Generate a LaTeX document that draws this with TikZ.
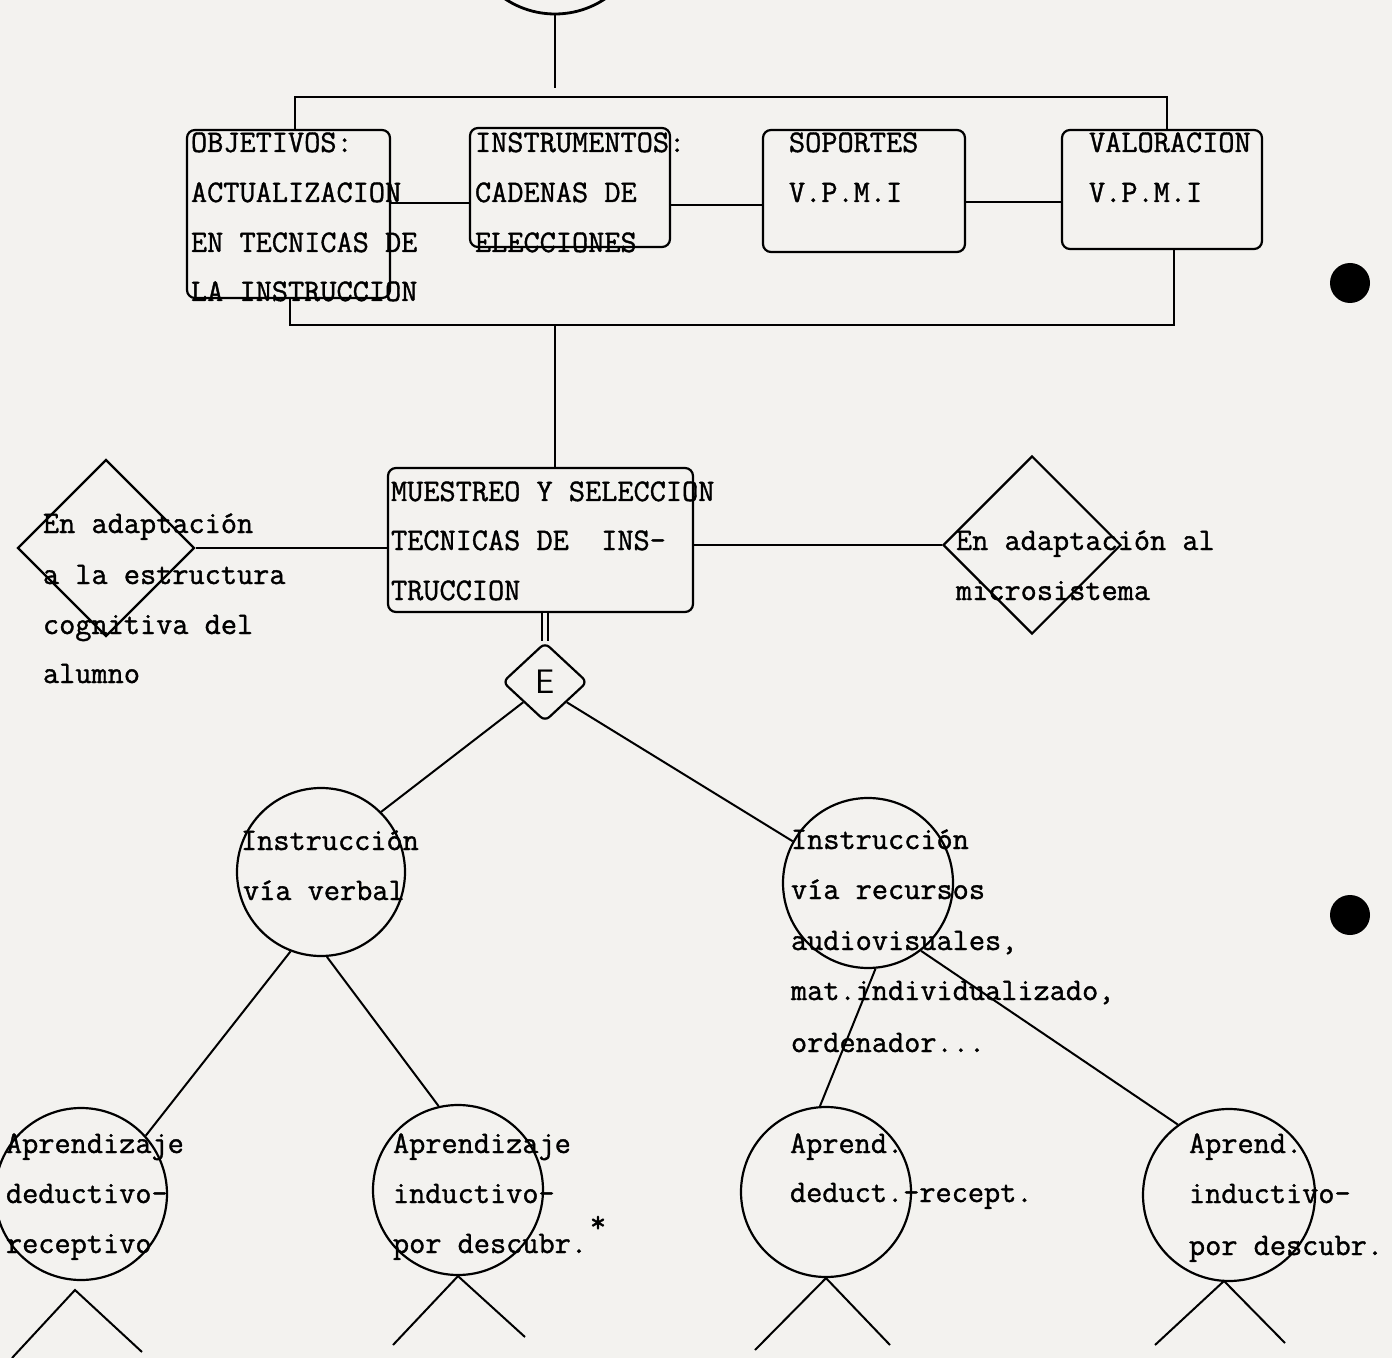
\documentclass[tikz,border=0pt]{standalone}
\usepackage{fontspec}
\usetikzlibrary{shapes.geometric,calc}
\newfontfamily\tw{Latin Modern Mono}[FakeBold=1.2]
\definecolor{paper}{RGB}{243,242,239}
\begin{document}
\begin{tikzpicture}[x=0.5pt,y=-0.5pt, line width=1pt,
  box/.style={draw, rounded corners=4pt, inner sep=0pt, line width=1.1pt},
  txt/.style={font=\tw\fontsize{15.7}{16}\selectfont, inner sep=0pt, anchor=base west},
  circ/.style={draw, circle, inner sep=0pt, line width=1.1pt},
  dia/.style={draw, diamond, inner sep=0pt, line width=1.1pt},
  blackdot/.style={circle, fill=black, inner sep=0pt, minimum size=20pt}]
\useasboundingbox (0,0) rectangle (1392,1358);
\clip (0,0) rectangle (1392,1358);
\fill[paper] (0,0) rectangle (1392,1358);

% top circle (partially visible)
\node[circ, minimum size=90pt, line width=1.4pt] (T) at (555,-76) {};
\coordinate (tb) at (555,88);
\draw (T.south) -- (tb);

% top row boxes
\node[box, minimum width=101.5pt, minimum height=84pt] (obj) at (288.5,214) {};
\node[box, minimum width=100pt, minimum height=59.5pt] (ins) at (570,187.5) {};
\node[box, minimum width=101pt, minimum height=61pt] (sop) at (864,191) {};
\node[box, minimum width=100pt, minimum height=59.5pt] (val) at (1162,189.5) {};

\node[txt] (o1) at (190,152) {OBJETIVOS:};
\node[txt] (o2) at (190,202) {ACTUALIZACION};
\node[txt] (o3) at (190,252) {EN TECNICAS DE};
\node[txt] (o4) at (190,301) {LA INSTRUCCION};
\node[txt] (i1) at (474,152) {INSTRUMENTOS:};
\node[txt] (i2) at (474,202) {CADENAS DE};
\node[txt] (i3) at (474,252) {ELECCIONES};
\node[txt] (s1) at (788,152) {SOPORTES};
\node[txt] (s2) at (788,202) {V.P.M.I};
\node[txt] (v1) at (1088,152) {VALORACION};
\node[txt] (v2) at (1088,202) {V.P.M.I};

% top bus
\coordinate (ba) at (295,97);
\coordinate (bb) at (1167,97);
\draw (obj.north -| ba) -- (ba) -- (bb) -- (val.north -| bb);

% links between boxes
\draw (obj.east |- 0,203) -- (ins.west |- 0,203);
\draw (ins.east |- 0,205) -- (sop.west |- 0,205);
\draw (sop.east |- 0,202) -- (val.west |- 0,202);

% bottom bus
\coordinate (ca) at (290,325);
\coordinate (cb) at (1174,325);
\coordinate (cm) at (555,325);
\draw (obj.south -| ca) -- (ca) -- (cb) -- (val.south -| cb);

% middle box
\node[box, minimum width=152.5pt, minimum height=72pt] (mue) at (540.5,540) {};
\draw (cm) -- (mue.north -| cm);
\node[txt] (m1) at (390,501) {MUESTREO Y SELECCION};
\node[txt] (m2) at (390,550) {TECNICAS DE\ \ INS-};
\node[txt] (m3) at (390,600) {TRUCCION};

% side diamonds
\node[dia, minimum width=88.5pt, minimum height=88.5pt] (ld) at (106,548) {};
\node[dia, minimum width=89pt, minimum height=89pt] (rd) at (1032,545) {};
\draw (ld.east) -- (mue.west |- ld.east);
\draw (mue.east |- rd.west) -- (rd.west);

\node[txt] (l1) at (42,533) {En adaptación};
\node[txt] (l2) at (42,584) {a la estructura};
\node[txt] (l3) at (42,634) {cognitiva del};
\node[txt] (l4) at (42,683) {alumno};
\node[txt] (r1) at (955,550) {En adaptación al};
\node[txt] (r2) at (955,600) {microsistema};

% E diamond
\node[dia, rounded corners=3pt, minimum width=42.5pt, minimum height=39.5pt,
      font=\sffamily\fontsize{17}{17}\selectfont] (E) at (545,682) {E};
\draw[double=paper, double distance=2pt, line width=0.8pt] (mue.south -| E.north) -- (E.north);

% second level circles
\node[circ, minimum size=84pt] (c1) at (321,872) {};
\node[circ, minimum size=85pt] (c2) at (868,883) {};
\draw (E.south west) -- (c1.45);
\draw (E.south east) -- (c2.151);

\node[txt] (a1) at (240,850) {Instrucción};
\node[txt] (a2) at (242,900) {vía verbal};
\node[txt] (b1) at (790,849) {Instrucción};
\node[txt] (b2) at (790,899) {vía recursos};
\node[txt] (b3) at (790,950) {audiovisuales,};
\node[txt] (b4) at (790,1000) {mat.individualizado,};
\node[txt] (b5) at (790,1052) {ordenador...};

% third level
\node[circ, minimum size=86pt] (L1) at (81,1194) {};
\node[circ, minimum size=85pt] (L2) at (458,1190) {};
\node[circ, minimum size=85pt] (L3) at (826,1192) {};
\node[circ, minimum size=86pt] (L4) at (1229,1195) {};
\draw (c1.249) -- (L1.42);
\draw (c1.-86) -- (L2.103);
\draw (c2.-85) -- (L3.94);
\draw (c2.-52) -- (L4.126);

\node[txt] (p1) at (5,1153) {Aprendizaje};
\node[txt] (p2) at (5,1203) {deductivo-};
\node[txt] (p3) at (5,1253) {receptivo};
\node[txt] (q1) at (392,1153) {Aprendizaje};
\node[txt] (q2) at (392,1203) {inductivo-};
\node[txt] (q3) at (392,1253) {por descubr.};
\node[txt] (s3a) at (789,1153) {Aprend.};
\node[txt] (s3b) at (789,1202) {deduct.-recept.};
\node[txt] (u1) at (1188,1153) {Aprend.};
\node[txt] (u2) at (1188,1203) {inductivo-};
\node[txt] (u3) at (1188,1255) {por descubr.};
\node[txt, anchor=center] (star) at (598,1224) {*};

% branches below
\coordinate (ap1) at (75,1290);
\coordinate (x1a) at (12,1358);
\coordinate (x1b) at (142,1352);
\draw (x1a) -- (ap1) -- (x1b);
\coordinate (x2a) at (393,1345);
\coordinate (x2b) at (525,1337);
\draw (x2a) -- (L2.south) -- (x2b);
\coordinate (x3a) at (755,1350);
\coordinate (x3b) at (890,1345);
\draw (x3a) -- (L3.south) -- (x3b);
\coordinate (ap4) at (1224,1281);
\coordinate (x4a) at (1155,1345);
\coordinate (x4b) at (1285,1343);
\draw (x4a) -- (ap4) -- (x4b);

% punch holes
\node[blackdot] (h1) at (1350,283) {};
\node[blackdot] (h2) at (1350,915) {};
\end{tikzpicture}
\end{document}
